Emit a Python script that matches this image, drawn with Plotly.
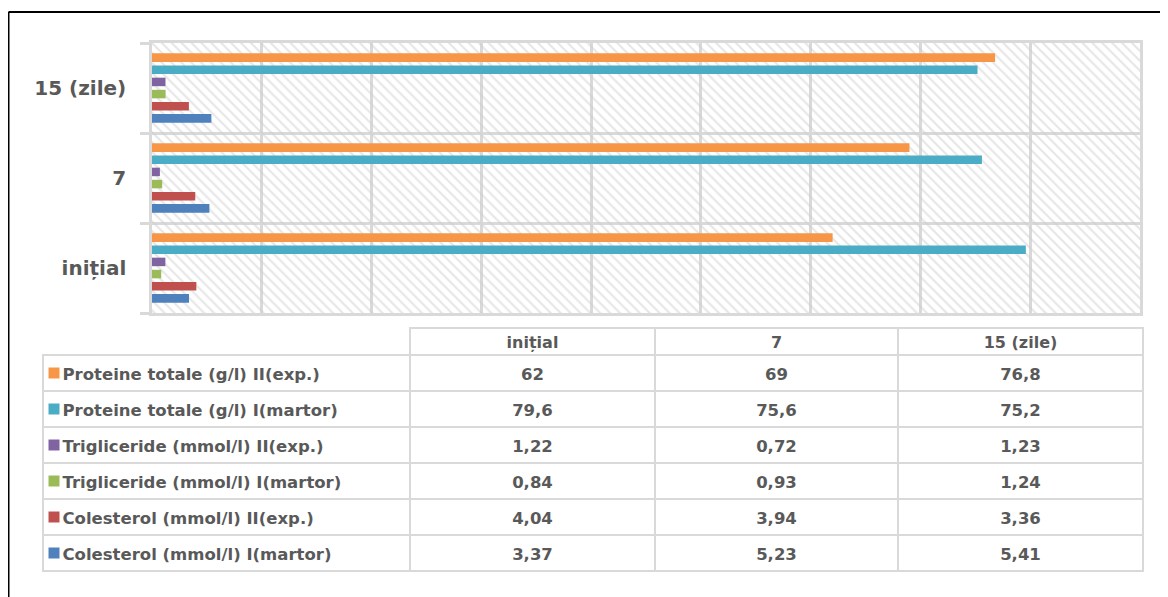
import plotly.graph_objects as go

categories = ["inițial", "7", "15 (zile)"]
series_names = [
    "Proteine totale (g/l) II(exp.)",
    "Proteine totale (g/l) I(martor)",
    "Trigliceride (mmol/l) II(exp.)",
    "Trigliceride (mmol/l) I(martor)",
    "Colesterol (mmol/l) II(exp.)",
    "Colesterol (mmol/l) I(martor)",
]
proteine_exp = [62, 69, 76.8]
proteine_martor = [79.6, 75.6, 75.2]
trig_exp = [1.22, 0.72, 1.23]
trig_martor = [0.84, 0.93, 1.24]
col_exp = [4.04, 3.94, 3.36]
col_martor = [3.37, 5.23, 5.41]
series_values = [proteine_exp, proteine_martor, trig_exp, trig_martor, col_exp, col_martor]
colors = ["#F79646", "#4BACC6", "#8064A2", "#9BBB59", "#C0504D", "#4F81BD"]

# page body has an 8px margin: the figure is drawn 8px smaller and coordinates shifted
OFF = 8
W, H = 1168 - OFF, 597 - OFF
GREY = "#d9d9d9"
TXT = "#595959"
FONT = "DejaVu Sans"
CLEAR = "rgba(0,0,0,0)"

def px_x(v):
    return (v - OFF) / W

def px_y(v):
    return (H - (v - OFF)) / H

fig = go.Figure()

# hatched background on the base axes
fig.add_trace(go.Scatter(
    x=[0, 1, 1, 0, 0], y=[0, 0, 1, 1, 0], mode="lines", fill="toself",
    line=dict(width=0), fillcolor=CLEAR,
    fillpattern=dict(shape="\\", fgcolor="#cdcdcd", bgcolor=CLEAR,
                     size=7, solidity=0.3),
    hoverinfo="skip", showlegend=False, xaxis="x", yaxis="y"))

# bars: first trace is drawn at the bottom of each group
for name, vals, col in reversed(list(zip(series_names, series_values, colors))):
    fig.add_trace(go.Bar(
        y=categories, x=vals, name=name, orientation="h",
        marker=dict(color=col, line=dict(width=0)),
        xaxis="x2", yaxis="y2", showlegend=False))

def fmt(v):
    return f"{v:g}".replace(".", ",")

NB = "\u00a0"
label_cells = [NB * 2 + n.replace(" ", NB) for n in series_names]
cols = [label_cells] + [[fmt(s[i]) for s in series_values] for i in range(len(categories))]
n_rows = len(series_names)
n_cols = len(cols)

table_dom = dict(x=[px_x(43), px_x(1143)], y=[px_y(573), px_y(328)])
col_w = [367, 245, 243, 245]

# data table: grid (borders) ...
fig.add_trace(go.Table(
    domain=table_dom, columnwidth=col_w,
    header=dict(values=[""] * n_cols, height=27,
                fill=dict(color=[CLEAR, "white", "white", "white"]),
                line=dict(color=[CLEAR, GREY, GREY, GREY], width=2)),
    cells=dict(values=[[""] * n_rows for _ in range(n_cols)], height=36,
               fill=dict(color=CLEAR), line=dict(color=GREY, width=2)),
))
# ... and its text, with body text lowered to sit mid-row
fig.add_trace(go.Table(
    domain=table_dom, columnwidth=col_w,
    header=dict(values=[""] + [c.replace(" ", NB) for c in categories], height=32,
                fill=dict(color=CLEAR), line=dict(color=CLEAR, width=0),
                align="center",
                font=dict(family=FONT, size=16, color=TXT, weight="bold")),
    cells=dict(values=cols, height=36,
               fill=dict(color=CLEAR), line=dict(color=CLEAR, width=0),
               align=["left", "center", "center", "center"],
               font=dict(family=FONT, size=16.5, color=TXT, weight="bold")),
))

# legend keys of the data table
fig.add_trace(go.Scatter(
    x=[0.5] * n_rows, y=series_names, mode="markers",
    marker=dict(symbol="square", size=11, color=colors, line=dict(width=0)),
    xaxis="x3", yaxis="y3", showlegend=False, hoverinfo="skip"))

fig.update_layout(
    width=W, height=H,
    margin=dict(l=0, r=0, t=0, b=0),
    paper_bgcolor="white", plot_bgcolor=CLEAR,
    barmode="group", bargap=0.19, bargroupgap=0.3,
    xaxis=dict(domain=[px_x(152), px_x(1140)], range=[0, 1], visible=False, fixedrange=True),
    yaxis=dict(domain=[px_y(313), px_y(43)], range=[0, 1], visible=False, fixedrange=True),
    xaxis2=dict(overlaying="x", range=[0, 90], dtick=10, showticklabels=False,
                showgrid=True, gridcolor=GREY, gridwidth=2.5, zeroline=False,
                showline=True, mirror=True, linecolor=GREY, linewidth=2.5, ticks=""),
    yaxis2=dict(overlaying="y", type="category", categoryorder="array",
                categoryarray=categories, range=[-0.5, 2.5],
                tickson="boundaries", ticks="outside", ticklen=9, tickcolor=GREY,
                tickwidth=2.5, showgrid=True, gridcolor=GREY, gridwidth=2.5,
                showline=True, mirror=True, linecolor=GREY, linewidth=2.5,
                ticklabelstandoff=19, automargin=False,
                tickfont=dict(family=FONT, size=20, color=TXT, weight="bold")),
    xaxis3=dict(domain=[px_x(44), px_x(64)], range=[0, 1], visible=False, fixedrange=True),
    yaxis3=dict(domain=[px_y(571), px_y(355)], type="category", categoryorder="array",
                categoryarray=list(reversed(series_names)), range=[-0.5, 5.5],
                visible=False, fixedrange=True),
    font=dict(family=FONT, color=TXT),
)

# outer frame (top and left edges visible)
fx = px_x(8.5)
fy = px_y(12)
fig.add_shape(type="line", xref="paper", yref="paper", x0=fx, x1=1.0, y0=fy, y1=fy,
              line=dict(color="black", width=2))
fig.add_shape(type="line", xref="paper", yref="paper", x0=fx, x1=fx, y0=0, y1=fy,
              line=dict(color="black", width=2))

fig.write_html("out.html")
